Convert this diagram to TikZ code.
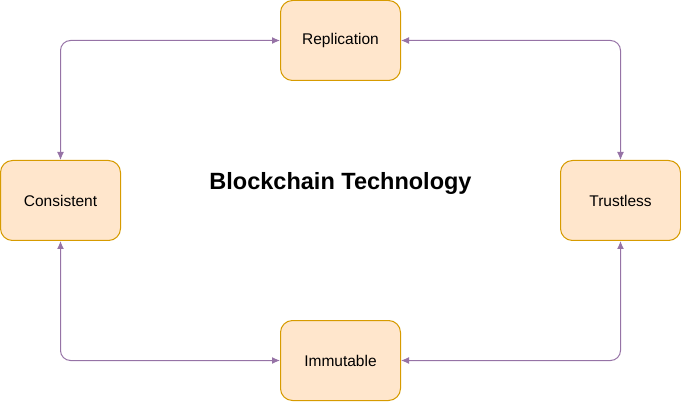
\documentclass[tikz,border=0pt]{standalone}
\usepackage{fontspec}
\setmainfont{Liberation Sans}
\usepackage{tikz}
\usetikzlibrary{positioning,arrows.meta}
\usepackage{xcolor}
\definecolor{boxfill}{RGB}{255,230,204}
\definecolor{boxline}{RGB}{215,155,0}
\definecolor{linkpurple}{RGB}{150,115,166}

\begin{document}
\begin{tikzpicture}[x=1pt, y=-1pt, >={Latex[length=8pt,width=7pt]},
    prop/.style={draw=boxline, fill=boxfill, line width=1pt, rectangle, rounded corners=12pt,
      minimum width=120pt, minimum height=80pt, inner sep=0pt, font=\fontsize{15.5}{18}\selectfont},
    link/.style={<->, draw=linkpurple, line width=1pt, rounded corners=10pt}]
        \useasboundingbox (0,0) rectangle (681,409);

        \node[prop] (repl) at (340.5,40.5) {Replication};
        \node[prop] (cons) at (60.5,200.5) {Consistent};
        \node[prop] (trust) at (620.5,200.5) {Trustless};
        \node[prop] (immut) at (340.5,360.5) {Immutable};
        \node[font=\fontsize{23.5}{28}\selectfont\bfseries] (title) at (340.5,183) {Blockchain Technology};

        \draw[link] (repl.west) -| (cons.north);
        \draw[link] (repl.east) -| (trust.north);
        \draw[link] (trust.south) |- (immut.east);
        \draw[link] (cons.south) |- (immut.west);
    \end{tikzpicture}
\end{document}
